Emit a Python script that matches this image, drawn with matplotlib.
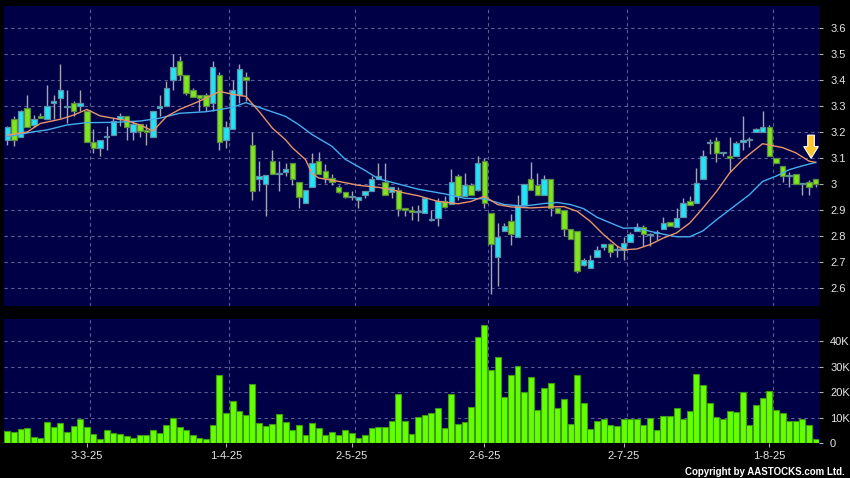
import matplotlib
matplotlib.use('Agg')
import matplotlib.pyplot as plt
import numpy as np
from matplotlib.patches import FancyArrow

plt.rcParams['font.family'] = ['Liberation Sans', 'DejaVu Sans']

# daily candles, 123 trading days (mid Feb 2025 -> mid Aug 2025)
opens = [3.171, 3.249, 3.182, 3.292, 3.228, 3.263, 3.251, 3.311, 3.331, 3.297,
         3.310, 3.301, 3.282, 3.162, 3.138, 3.181, 3.190, 3.251, 3.263, 3.200,
         3.231, 3.209, 3.182, 3.292, 3.301, 3.400, 3.472, 3.418, 3.360, 3.341,
         3.341, 3.313, 3.418, 3.171, 3.213, 3.341, 3.412, 3.151, 3.019, 3.000,
         3.090, 3.038, 3.047, 3.081, 3.008, 2.927, 2.988, 3.087, 3.049, 3.023,
         2.988, 2.970, 2.949, 2.940, 2.959, 2.972, 3.019, 3.008, 2.970, 2.976,
         2.908, 2.901, 2.893, 2.890, 2.863, 2.871, 2.936, 2.924, 3.029, 2.953,
         2.997, 2.978, 3.087, 2.888, 2.719, 2.818, 2.856, 2.796, 2.921, 3.019,
         2.997, 2.959, 3.019, 2.908, 2.900, 2.827, 2.818, 2.690, 2.677, 2.719,
         2.758, 2.768, 2.746, 2.746, 2.776, 2.821, 2.835, 2.805, 2.810, 2.826,
         2.855, 2.836, 2.874, 2.936, 2.926, 3.018, 3.158, 3.167, 3.118, 3.108,
         3.108, 3.162, 3.170, 3.199, 3.199, 3.218, 3.100, 3.068, 3.030, 3.038,
         3.000, 3.008, 3.018]
closes = [3.218, 3.171, 3.279, 3.221, 3.249, 3.253, 3.300, 3.321, 3.362, 3.297,
          3.282, 3.312, 3.162, 3.138, 3.168, 3.181, 3.244, 3.263, 3.221, 3.231,
          3.203, 3.200, 3.279, 3.301, 3.369, 3.450, 3.420, 3.350, 3.333, 3.331,
          3.301, 3.449, 3.162, 3.218, 3.360, 3.442, 3.400, 2.972, 3.029, 3.036,
          3.038, 3.038, 3.058, 3.019, 2.950, 2.977, 3.081, 3.038, 3.023, 3.009,
          2.970, 2.951, 2.949, 2.950, 2.972, 3.021, 3.029, 2.959, 2.988, 2.903,
          2.899, 2.891, 2.897, 2.947, 2.865, 2.935, 2.912, 3.006, 2.953, 2.997,
          2.959, 3.081, 2.927, 2.769, 2.795, 2.837, 2.808, 2.917, 3.001, 2.978,
          2.959, 3.019, 2.908, 2.888, 2.827, 2.789, 2.664, 2.709, 2.709, 2.747,
          2.768, 2.737, 2.746, 2.774, 2.806, 2.836, 2.806, 2.805, 2.810, 2.849,
          2.838, 2.868, 2.926, 2.918, 3.005, 3.108, 3.163, 3.118, 3.118, 3.101,
          3.159, 3.170, 3.170, 3.210, 3.218, 3.108, 3.081, 3.032, 3.030, 3.000,
          3.000, 2.987, 3.000]
highs = [3.225, 3.262, 3.285, 3.344, 3.264, 3.273, 3.382, 3.344, 3.462, 3.363,
         3.321, 3.363, 3.285, 3.213, 3.168, 3.222, 3.255, 3.273, 3.263, 3.244,
         3.231, 3.231, 3.279, 3.344, 3.395, 3.500, 3.491, 3.418, 3.369, 3.341,
         3.350, 3.474, 3.431, 3.241, 3.401, 3.462, 3.432, 3.200, 3.090, 3.036,
         3.131, 3.087, 3.081, 3.081, 3.008, 2.977, 3.119, 3.122, 3.077, 3.040,
         2.997, 2.970, 2.972, 2.950, 2.972, 3.030, 3.081, 3.081, 2.988, 2.990,
         2.908, 2.914, 2.921, 2.947, 2.900, 2.946, 2.953, 3.058, 3.040, 3.042,
         3.005, 3.106, 3.100, 2.888, 2.850, 2.850, 2.885, 2.959, 3.001, 3.083,
         3.042, 3.036, 3.019, 2.908, 2.900, 2.827, 2.818, 2.715, 2.728, 2.760,
         2.768, 2.775, 2.760, 2.797, 2.815, 2.850, 2.843, 2.810, 2.823, 2.874,
         2.855, 2.908, 2.945, 2.953, 3.060, 3.131, 3.175, 3.182, 3.125, 3.182,
         3.165, 3.262, 3.182, 3.214, 3.281, 3.227, 3.100, 3.068, 3.045, 3.038,
         3.003, 3.015, 3.018]
lows = [3.151, 3.148, 3.182, 3.221, 3.221, 3.253, 3.251, 3.251, 3.254, 3.235,
        3.260, 3.280, 3.162, 3.119, 3.106, 3.132, 3.190, 3.222, 3.171, 3.171,
        3.179, 3.151, 3.182, 3.260, 3.301, 3.363, 3.400, 3.344, 3.333, 3.280,
        3.280, 3.280, 3.131, 3.138, 3.213, 3.312, 3.320, 2.938, 2.972, 2.876,
        3.038, 2.974, 3.029, 2.997, 2.908, 2.927, 2.988, 3.038, 3.004, 2.997,
        2.965, 2.946, 2.940, 2.908, 2.946, 2.972, 3.019, 2.959, 2.946, 2.876,
        2.878, 2.860, 2.856, 2.890, 2.856, 2.837, 2.908, 2.924, 2.940, 2.953,
        2.959, 2.972, 2.908, 2.577, 2.606, 2.818, 2.767, 2.796, 2.921, 2.978,
        2.959, 2.959, 2.876, 2.888, 2.800, 2.789, 2.658, 2.685, 2.677, 2.719,
        2.745, 2.718, 2.720, 2.708, 2.776, 2.821, 2.763, 2.760, 2.785, 2.826,
        2.838, 2.836, 2.874, 2.918, 2.926, 3.018, 3.115, 3.086, 3.108, 3.047,
        3.108, 3.130, 3.144, 3.199, 3.199, 3.108, 3.081, 3.009, 2.990, 3.000,
        2.958, 2.958, 2.990]
# volume in thousands of shares
volumes = [4.6, 4.4, 5.6, 5.9, 2.4, 2.0, 8.4, 6.4, 8.0, 4.3,
           6.8, 9.5, 6.4, 3.5, 1.7, 5.2, 4.1, 3.7, 2.6, 2.1,
           3.1, 3.1, 5.1, 4.1, 7.2, 9.8, 6.3, 5.2, 3.3, 2.0,
           1.7, 7.1, 26.7, 11.8, 16.6, 12.4, 11.0, 23.1, 8.0, 6.7,
           7.6, 11.4, 8.4, 5.0, 7.1, 3.3, 8.0, 5.9, 3.3, 4.4,
           3.1, 5.0, 3.8, 2.0, 3.0, 6.0, 6.4, 6.3, 8.5, 19.3,
           8.5, 3.5, 10.3, 11.0, 11.8, 13.6, 5.9, 19.3, 7.6, 8.4,
           14.0, 41.6, 46.3, 28.5, 33.6, 18.0, 26.7, 30.1, 20.1, 26.1,
           13.1, 21.6, 23.5, 13.6, 17.3, 7.5, 26.7, 15.7, 5.6, 8.6,
           9.4, 7.1, 6.5, 9.4, 9.4, 9.4, 6.9, 9.8, 5.0, 10.5,
           10.8, 13.6, 9.4, 12.4, 27.1, 22.6, 15.9, 10.1, 9.4, 12.4,
           12.0, 20.0, 6.9, 14.9, 17.8, 20.5, 13.1, 11.9, 8.6, 8.6,
           9.5, 6.9, 1.6]

# moving averages (bar index, price)
ma_short_idx = [0, 3, 5, 8, 10, 12, 14, 16, 18, 20, 22, 24, 26, 28, 30, 32, 34, 36, 38, 40,
                42, 43, 45, 46, 47, 50, 53, 56, 58, 60, 62, 65, 68, 70, 72, 74, 76, 79, 82, 84,
                86, 88, 90, 92, 93, 95, 97, 99, 101, 103, 105, 107, 109, 111, 113, 114, 117, 119, 121, 122]
ma_short = [3.188, 3.200, 3.233, 3.249, 3.265, 3.287, 3.262, 3.253, 3.244, 3.227,
            3.204, 3.259, 3.287, 3.308, 3.330, 3.356, 3.345, 3.337, 3.279, 3.215,
            3.170, 3.140, 3.094, 3.040, 3.023, 3.010, 2.995, 2.987, 2.978, 2.965,
            2.955, 2.933, 2.924, 2.933, 2.953, 2.921, 2.912, 2.908, 2.912, 2.913,
            2.895, 2.856, 2.805, 2.762, 2.747, 2.750, 2.767, 2.792, 2.812, 2.850,
            2.908, 2.970, 3.042, 3.094, 3.135, 3.155, 3.140, 3.120, 3.088, 3.083]
ma_long_idx = [0, 4, 6, 9, 12, 16, 20, 23, 26, 30, 32, 34, 36, 39, 42, 44, 46, 49, 51, 54,
               56, 59, 62, 66, 69, 72, 75, 78, 81, 83, 85, 87, 89, 92, 93, 95, 97, 99, 101, 103,
               105, 107, 110, 112, 114, 116, 118, 120, 122]
ma_long = [3.182, 3.201, 3.208, 3.227, 3.236, 3.237, 3.242, 3.253, 3.272, 3.278,
           3.286, 3.295, 3.313, 3.286, 3.260, 3.228, 3.190, 3.145, 3.095, 3.052,
           3.020, 3.000, 2.980, 2.962, 2.945, 2.943, 2.921, 2.915, 2.925, 2.929,
           2.921, 2.905, 2.872, 2.840, 2.830, 2.831, 2.818, 2.807, 2.797, 2.797,
           2.820, 2.862, 2.920, 2.959, 3.010, 3.030, 3.055, 3.070, 3.083]

date_idx = [12, 33, 52, 72, 93, 115]
date_labels = ['3-3-25', '1-4-25', '2-5-25', '2-6-25', '2-7-25', '1-8-25']
price_ticks = [2.6, 2.7, 2.8, 2.9, 3.0, 3.1, 3.2, 3.3, 3.4, 3.5, 3.6]
price_labels = ['2.6', '2.7', '2.8', '2.9', '3', '3.1', '3.2', '3.3', '3.4', '3.5', '3.6']
vol_ticks = [0, 10, 20, 30, 40]
vol_labels = ['0', '10K', '20K', '30K', '40K']

panel = '#000046'
gridc = '#5E5E96'
txtc = '#E6E6E6'

o = np.array(opens)
c = np.array(closes)
x = np.arange(len(c))
up = c >= o
lo = np.minimum(o, c)
hgt = np.maximum(np.abs(c - o), 0.004)

fig = plt.figure(figsize=(8.5, 4.78), dpi=100, facecolor='black')
ax = fig.add_axes([4/850, 1 - 306/478, 815/850, 300/478], facecolor=panel)
axv = fig.add_axes([4/850, 1 - 443/478, 815/850, 124/478], facecolor=panel)

for a in (ax, axv):
    for s in a.spines.values():
        s.set_visible(False)
    a.set_xlim(-0.5, len(c) - 0.5)
    for d in date_idx:
        a.axvline(d + 0.5, color=gridc, lw=0.8, ls=(0, (3, 3)), zorder=0)
    a.yaxis.tick_right()
    a.tick_params(axis='y', colors='#B0B0B0', labelcolor=txtc, length=3, pad=5, labelsize=8)

# price panel
ax.set_ylim(2.5308, 3.6846)
ax.set_yticks(price_ticks)
ax.set_yticklabels(price_labels)
ax.grid(axis='y', color=gridc, lw=0.8, ls=(0, (3, 3)), zorder=0)
ax.set_xticks([])

ax.vlines(x, lows, highs, color='#A4A4B4', lw=1, zorder=2)
ax.bar(x[up], hgt[up], bottom=lo[up], width=0.82, color='#22E4F6',
       edgecolor='#5C8EA6', linewidth=0.9, zorder=3)
ax.bar(x[~up], hgt[~up], bottom=lo[~up], width=0.82, color='#80E41E',
       edgecolor='#5A8A40', linewidth=0.9, zorder=3)

ax.plot(ma_long_idx, ma_long, color='#45AEEE', lw=1.0, zorder=4)
ax.plot(ma_short_idx, ma_short, color='#E8946A', lw=1.0, zorder=4)

# down arrow at the right end of the averages
xa = ma_short_idx[-1] - 0.7
ax.add_patch(FancyArrow(xa, 3.188, 0, -0.089, width=1.0, head_width=2.2,
                        head_length=0.045, length_includes_head=True,
                        fc='#FFC62A', ec='white', lw=0.8, zorder=6))

# volume panel
axv.set_ylim(0, 48.7)
axv.set_yticks(vol_ticks)
axv.set_yticklabels(vol_labels)
axv.grid(axis='y', color=gridc, lw=0.8, ls=(0, (3, 3)), zorder=0)
axv.bar(x, volumes, width=0.9, color='#66FF00', edgecolor='#3A9A10', linewidth=0.8, zorder=3)
axv.set_xticks(date_idx)
axv.set_xticklabels(date_labels)
axv.tick_params(axis='x', colors='#B0B0B0', labelcolor=txtc, length=3, pad=3, labelsize=8)

fig.text(845/850, 1 - 472/478, 'Copyright by AASTOCKS.com Ltd.', color='white',
         fontsize=7, fontweight='bold', ha='right', va='center')

fig.savefig('out.png', dpi=100, facecolor='black')
